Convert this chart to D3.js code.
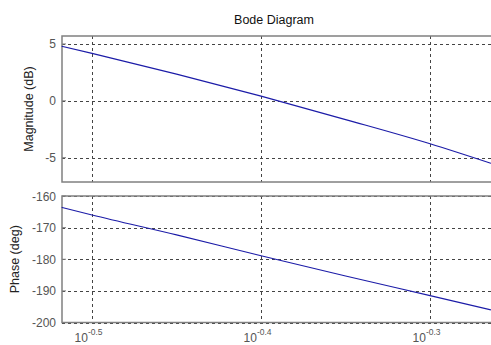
<!DOCTYPE html>
<html>
<head>
<meta charset="utf-8">
<script src="https://cdn.jsdelivr.net/npm/d3@7"></script>
<style>
  body { margin: 0; background: #fff; }
  svg { display: block; font-family: "Liberation Sans", Arial, sans-serif; }
</style>
</head>
<body>
<svg id="chart" width="491" height="345"></svg>
<script>
// Frequency (rad/s) sample points
const freqs = [0.3034, 0.3162, 0.3548, 0.3981, 0.4467, 0.5012, 0.5445];
// Magnitude (dB)
const magnitude = [4.80, 4.17, 2.34, 0.41, -1.65, -3.78, -5.50];
// Phase (deg)
const phase = [-163.6, -166.0, -172.3, -178.9, -185.3, -191.5, -196.0];
// Tick definitions
const xTickExps = ["-0.5", "-0.4", "-0.3"];
const magTicks = [5, 0, -5];
const phaseTicks = [-160, -170, -180, -190, -200];

const svg = d3.select("#chart");
const W = 491, H = 345;
const left = 62, right = 497;

const x = d3.scaleLog().domain([Math.pow(10, -0.5178), Math.pow(10, -0.2604)]).range([left, right]);
const xTickVals = xTickExps.map(e => Math.pow(10, +e));

const yMag = d3.scaleLinear().domain([-7.14, 5.7]).range([182, 36]);
const yPh = d3.scaleLinear().domain([-200, -160]).range([322.5, 196]);

svg.append("text").attr("x", 274).attr("y", 24).attr("text-anchor", "middle")
  .attr("font-size", "12.5px").attr("fill", "#111").text("Bode Diagram");

function panel(y, ticks, vals, label, labelX) {
  const g = svg.append("g");
  const [y0, y1] = y.range();
  // grid
  g.selectAll(".vg").data(xTickVals).enter().append("line")
    .attr("x1", d => Math.round(x(d)) + 0.5).attr("x2", d => Math.round(x(d)) + 0.5)
    .attr("y1", y1).attr("y2", y0)
    .attr("stroke", "#444").attr("stroke-width", 1).attr("stroke-dasharray", "3,3");
  g.selectAll(".hg").data(ticks).enter().append("line")
    .attr("x1", left).attr("x2", W)
    .attr("y1", d => Math.round(y(d)) + 0.5).attr("y2", d => Math.round(y(d)) + 0.5)
    .attr("stroke", "#444").attr("stroke-width", 1).attr("stroke-dasharray", "3,3");
  // border
  g.append("rect").attr("x", left).attr("y", y1).attr("width", right - left).attr("height", y0 - y1)
    .attr("fill", "none").attr("stroke", "#808080").attr("stroke-width", 1.5);
  // y ticks (inward)
  g.selectAll(".yt").data(ticks).enter().append("line")
    .attr("x1", left).attr("x2", left + 4)
    .attr("y1", d => y(d)).attr("y2", d => y(d)).attr("stroke", "#808080");
  g.selectAll(".yl").data(ticks).enter().append("text")
    .attr("x", 56).attr("y", d => y(d) + 4.5).attr("text-anchor", "end")
    .attr("font-size", "12px").attr("fill", "#555").text(d => d);
  // line
  const line = d3.line().x((d, i) => x(freqs[i])).y(d => y(d)).curve(d3.curveMonotoneX);
  g.append("path").datum(vals).attr("d", line)
    .attr("fill", "none").attr("stroke", "#1c1ca8").attr("stroke-width", 1.2);
  // y label
  const cy = (y0 + y1) / 2;
  g.append("text").attr("transform", `translate(${labelX},${cy}) rotate(-90)`)
    .attr("text-anchor", "middle").attr("font-size", "12.5px").attr("fill", "#222").text(label);
}

panel(yMag, magTicks, magnitude, "Magnitude (dB)", 33);
panel(yPh, phaseTicks, phase, "Phase (deg)", 19);

// x tick labels
const xl = svg.selectAll(".xl").data(xTickExps).enter().append("text")
  .attr("x", d => x(Math.pow(10, +d)) - 3.5).attr("y", 342)
  .attr("text-anchor", "middle").attr("font-size", "12px").attr("fill", "#555");
xl.append("tspan").text("10");
xl.append("tspan").attr("dy", -7).attr("font-size", "8.5px").text(d => d);
</script>
</body>
</html>
